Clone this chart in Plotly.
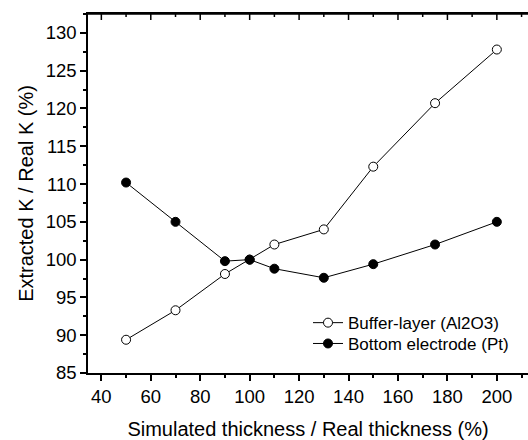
import plotly.graph_objects as go

x_vals = [50, 70, 90, 100, 110, 130, 150, 175, 200]
buffer_layer = [89.4, 93.3, 98.1, 100.0, 102.0, 104.0, 112.3, 120.7, 127.8]
bottom_electrode = [110.2, 105.0, 99.8, 100.0, 98.8, 97.6, 99.4, 102.0, 105.0]
name_buffer = "Buffer-layer (Al2O3)"
name_bottom = "Bottom electrode (Pt)"
x_ticks = [40, 60, 80, 100, 120, 140, 160, 180, 200]
x_minor = [50, 70, 90, 110, 130, 150, 170, 190, 210]
y_ticks = [85, 90, 95, 100, 105, 110, 115, 120, 125, 130]
y_minor = [87.5, 92.5, 97.5, 102.5, 107.5, 112.5, 117.5, 122.5, 127.5, 132.5]

FONT = "Liberation Sans, Arial, sans-serif"

fig = go.Figure()
fig.add_trace(go.Scatter(
    x=x_vals, y=buffer_layer, name=name_buffer, mode="lines+markers", legend="legend",
    line=dict(color="black", width=1),
    marker=dict(symbol="circle", size=9, color="white", line=dict(color="black", width=1)),
))
fig.add_trace(go.Scatter(
    x=x_vals, y=bottom_electrode, name=name_bottom, mode="lines+markers", legend="legend2",
    line=dict(color="black", width=1),
    marker=dict(symbol="circle", size=9, color="black", line=dict(color="black", width=1)),
))

xrange = [34.6, 212.6]
yrange = [85, 132.5]

# top frame line and inward-pointing ticks along the top edge (at the x tick values)
fig.add_shape(type="line", xref="paper", yref="paper", x0=0, x1=1, y0=1, y1=1,
              line=dict(color="black", width=1.5), layer="above")
for v, ln in [(t, 6) for t in x_ticks] + [(t, 3) for t in x_minor]:
    fig.add_shape(type="line", xref="x", yref="paper", ysizemode="pixel", yanchor=1,
                  x0=v, x1=v, y0=0, y1=-ln,
                  line=dict(color="black", width=1.5), layer="above")

legend_style = dict(
    xanchor="left", yanchor="middle",
    bgcolor="rgba(0,0,0,0)", font=dict(size=17, family=FONT),
    itemwidth=30,
)

fig.update_layout(
    width=528, height=440,
    margin=dict(l=88, r=0, t=14, b=67),
    paper_bgcolor="white", plot_bgcolor="white",
    font=dict(family=FONT, size=18.5, color="black"),
    showlegend=True,
    legend=dict(x=0.50, y=0.139, **legend_style),
    legend2=dict(x=0.50, y=0.081, **legend_style),
    xaxis=dict(
        range=xrange, tickvals=x_ticks,
        showgrid=False, zeroline=False, showline=True, linecolor="black", linewidth=1.5,
        mirror=True,
        ticks="outside", ticklen=6, tickwidth=1.5, tickcolor="black",
        minor=dict(tickvals=x_minor, ticks="outside", ticklen=3, tickwidth=1.5, tickcolor="black"),
        tickfont=dict(size=18.5),
        title=dict(text="Simulated thickness / Real thickness (%)", font=dict(size=20), standoff=18),
    ),
    yaxis=dict(
        range=yrange, tickvals=y_ticks,
        showgrid=False, zeroline=False, showline=True, linecolor="black", linewidth=1.5,
        ticks="outside", ticklen=6, tickwidth=1.5, tickcolor="black",
        minor=dict(tickvals=y_minor, ticks="outside", ticklen=3, tickwidth=1.5, tickcolor="black"),
        tickfont=dict(size=18.5),
        title=dict(text="Extracted K / Real K (%)", font=dict(size=20), standoff=7),
    ),
)

fig.write_html(
    "out.html",
    config={"displayModeBar": False},
    post_script="document.body.style.margin='0';document.body.style.overflow='hidden';",
)
